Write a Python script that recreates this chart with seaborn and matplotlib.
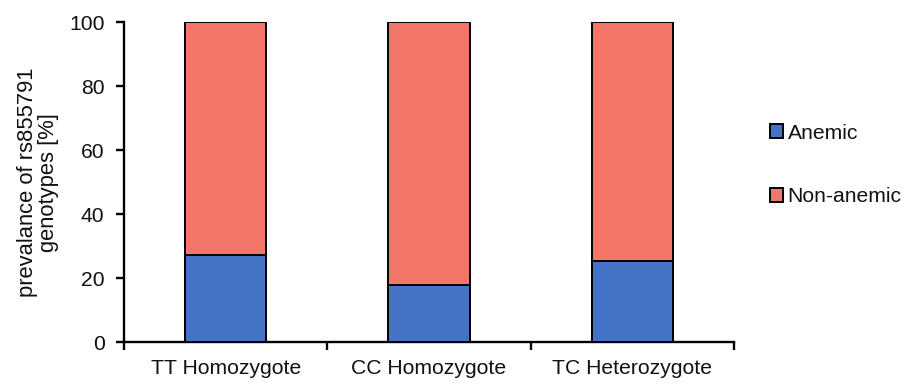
import numpy as np
import pandas as pd
import matplotlib
matplotlib.use("Agg")
import matplotlib.pyplot as plt
from matplotlib.patches import Patch
from matplotlib.ticker import FixedLocator
import seaborn as sns

# Genotype groups and share of anemic / non-anemic subjects (%)
genotypes = ["TT Homozygote", "CC Homozygote", "TC Heterozygote"]
anemic = [27.3, 17.9, 25.4]
non_anemic = [72.7, 82.1, 74.6]

blue = "#4472C4"
salmon = "#F4766A"

sns.set_theme(style="white")
plt.rcParams["font.family"] = ["Liberation Sans", "DejaVu Sans"]

df = pd.DataFrame({
    "genotype": genotypes,
    "anemic": anemic,
    "total": np.array(anemic) + np.array(non_anemic),
})

fig = plt.figure(figsize=(9.05, 3.85), dpi=100)
ax = fig.add_axes([124 / 905, 1 - 342.3 / 385, (734 - 124) / 905, (342.3 - 22.3) / 385])

# stacked bars: full height (non-anemic on top) then anemic part drawn over it
sns.barplot(data=df, x="genotype", y="total", color=salmon, width=0.4,
            edgecolor="black", linewidth=1.4, saturation=1, ax=ax, zorder=2)
sns.barplot(data=df, x="genotype", y="anemic", color=blue, width=0.4,
            edgecolor="black", linewidth=1.4, saturation=1, ax=ax, zorder=3)

ax.set_xlim(-0.5, 2.5)
ax.set_ylim(0, 100)
ax.set_yticks([0, 20, 40, 60, 80, 100])
ax.set_xlabel("")
ax.set_ylabel("prevalance of rs855791\ngenotypes [%]", fontsize=15.8,
              linespacing=1.0, labelpad=7, color="#111111")

for side in ["top", "right"]:
    ax.spines[side].set_visible(False)
for side in ["left", "bottom"]:
    ax.spines[side].set_linewidth(1.7)
    ax.spines[side].set_color("black")

ax.tick_params(axis="y", which="major", direction="out", length=6, width=1.7,
               color="black", labelsize=15.2, pad=8, left=True)
ax.tick_params(axis="x", which="major", length=0, labelsize=15.2, pad=12)
ax.xaxis.set_minor_locator(FixedLocator([-0.5, 0.5, 1.5, 2.5]))
ax.tick_params(axis="x", which="minor", direction="out", length=6, width=1.7,
               color="black", bottom=True)
for lbl in ax.get_xticklabels() + ax.get_yticklabels():
    lbl.set_color("#111111")

handles = [Patch(facecolor=blue, edgecolor="black", linewidth=1.4, label="Anemic"),
           Patch(facecolor=salmon, edgecolor="black", linewidth=1.4, label="Non-anemic")]
leg = fig.legend(handles=handles, loc="center left", bbox_to_anchor=(759 / 905, 1 - 165 / 385),
                 frameon=False, fontsize=15.2, handlelength=0.65, handleheight=0.65,
                 handletextpad=0.2, labelspacing=2.1, borderpad=0)
for t in leg.get_texts():
    t.set_color("#111111")

fig.savefig("out.png", dpi=100)
